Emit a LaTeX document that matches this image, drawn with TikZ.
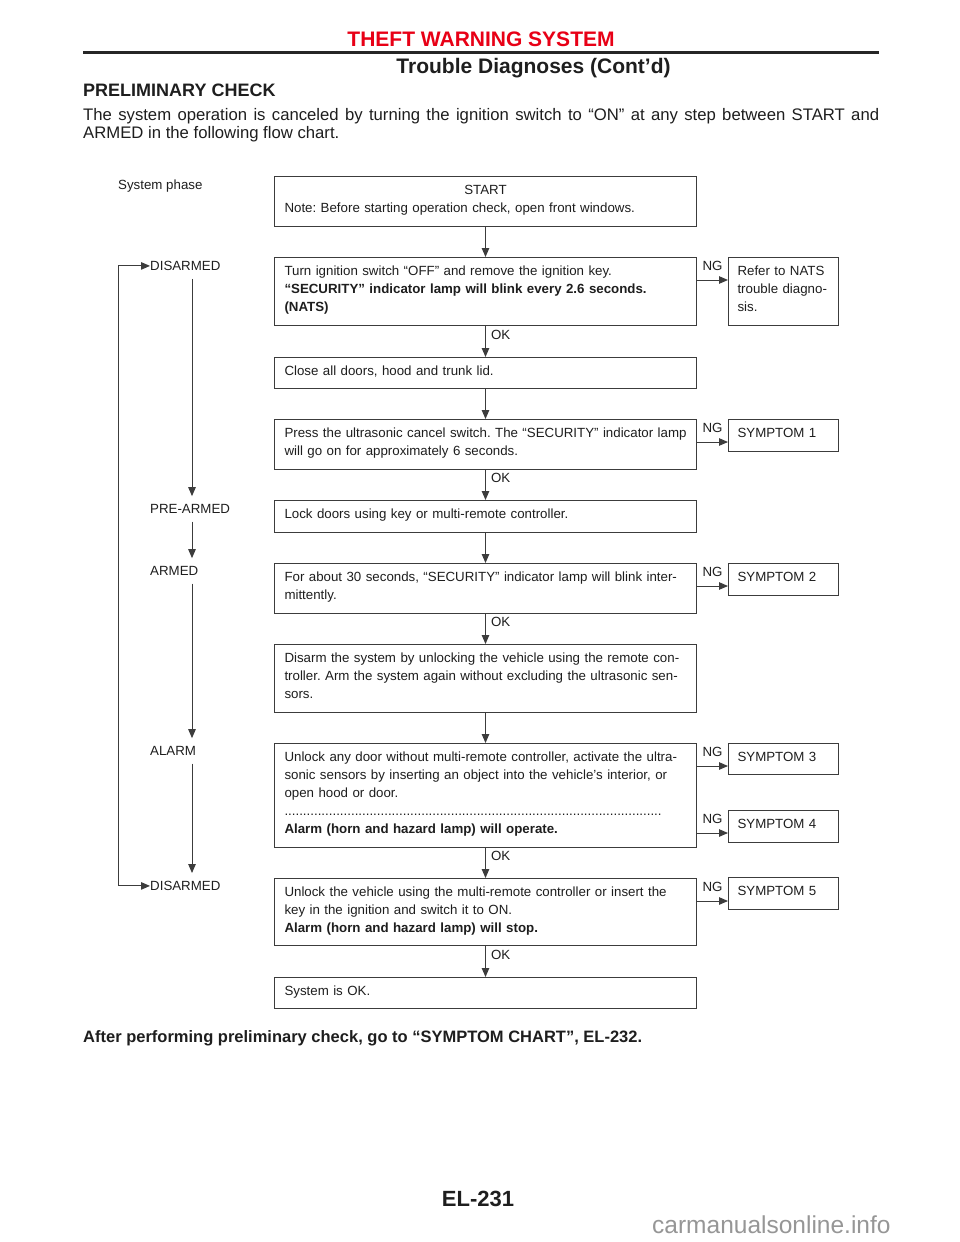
\documentclass[tikz,border=0pt]{standalone}
\usepackage{fontspec}
\setmainfont{Liberation Sans}
\usetikzlibrary{arrows.meta,calc}
\definecolor{titlered}{RGB}{232,0,22}
\definecolor{linec}{RGB}{60,60,60}
\definecolor{txt}{RGB}{30,30,30}
\definecolor{wm}{RGB}{150,150,150}
\newcommand\rs{\rule[-7pt]{0pt}{18pt}}
\newcommand\dotrow{\hbox to 380pt{\leaders\hbox{.}\hfill}}
\frenchspacing
\tikzset{
  boxfont/.style={font=\fontsize{13.3}{18}\selectfont},
  fbox/.style={draw=linec, line width=1pt, anchor=north west, inner xsep=10pt, inner ysep=0pt,
    text width=402pt, align=left, boxfont, text=txt},
  sbox/.style={draw=linec, line width=1pt, anchor=north west, inner xsep=9pt, inner ysep=0pt,
    text width=92pt, align=left, boxfont, text=txt},
  tip/.tip={Triangle[length=9pt,width=7.5pt]},
  arr/.style={draw=linec, line width=1pt, -tip},
  arrboth/.style={draw=linec, line width=1pt, tip-tip},
  phase/.style={anchor=base west, inner sep=0pt, boxfont, text=txt},
  oklab/.style={anchor=west, inner sep=0pt, xshift=5pt, boxfont, text=txt},
  nglab/.style={inner sep=0pt, yshift=14pt, boxfont, text=txt},
}
\begin{document}
\begin{tikzpicture}[x=1pt,y=-1pt]
\useasboundingbox[fill=white] (0,0) rectangle (960,1242);

% header
\node[anchor=base, inner sep=0pt, text=titlered, font=\fontsize{21}{24}\selectfont\bfseries] (title) at (481,46.5) {THEFT WARNING SYSTEM};
\coordinate (rl) at (83,52.5);
\coordinate (rr) at (879,52.5);
\draw[line width=3pt, draw=black!85] (rl) -- (rr);
\node[anchor=base, inner sep=0pt, text=txt, font=\fontsize{21}{24}\selectfont\bfseries] (sub) at (533.5,73.5) {Trouble Diagnoses (Cont’d)};
\node[anchor=base west, inner sep=0pt, text=txt, font=\fontsize{18}{22}\selectfont\bfseries] (sec) at (83,96.5) {PRELIMINARY CHECK};
\node[anchor=base west, inner sep=0pt, text=txt, font=\fontsize{16.7}{18}\selectfont] (p1) at (83,120) {\makebox[796pt][s]{The system operation is canceled by turning the ignition switch to “ON” at any step between START and}};
\node[anchor=base west, inner sep=0pt, text=txt, font=\fontsize{16.7}{18}\selectfont] (p2) at (83,138) {ARMED in the following flow chart.};

% phase column
\node[phase] (sp) at (118,189.5) {System phase};
\node[phase] (d1) at (150,270.5) {DISARMED};
\node[phase] (pa) at (150,513.5) {PRE-ARMED};
\node[phase] (ar) at (150,575.5) {ARMED};
\node[phase] (al) at (150,755.5) {ALARM};
\node[phase] (d2) at (150,890.5) {DISARMED};
\coordinate (colx) at (192,0);
\coordinate (colL) at (118,0);
\draw[arr] ([yshift=-8pt]d1.south -| colx) -- ([yshift=8pt]pa.north -| colx);
\draw[arr] ([yshift=-8pt]pa.south -| colx) -- ([yshift=8pt]ar.north -| colx);
\draw[arr] ([yshift=-8pt]ar.south -| colx) -- ([yshift=8pt]al.north -| colx);
\draw[arr] ([yshift=-8pt]al.south -| colx) -- ([yshift=8pt]d2.north -| colx);
\draw[arrboth] (d1.west) -- (d1.west -| colL) -- (d2.west -| colL) -- (d2.west);

% main boxes
\node[fbox, minimum height=50pt] (b1) at (274,176) {\makebox[402pt]{\rs START}\\\rs Note: Before starting operation check, open front windows.};
\node[fbox, minimum height=68pt] (b2) at (274,257) {\rs Turn ignition switch “OFF” and remove the ignition key.\\\rs\textbf{“SECURITY” indicator lamp will blink every 2.6 seconds.}\\\rs\textbf{(NATS)}};
\node[fbox, minimum height=31pt] (b3) at (274,357) {\rs Close all doors, hood and trunk lid.};
\node[fbox, minimum height=50pt] (b4) at (274,419) {\rs\mbox{Press the ultrasonic cancel switch. The “SECURITY” indicator lamp}\\\rs will go on for approximately 6 seconds.};
\node[fbox, minimum height=32pt] (b5) at (274,500) {\rs Lock doors using key or multi-remote controller.};
\node[fbox, minimum height=50pt] (b6) at (274,563) {\rs\mbox{For about 30 seconds, “SECURITY” indicator lamp will blink inter-}\\\rs mittently.};
\node[fbox, minimum height=68pt] (b7) at (274,644) {\rs\mbox{Disarm the system by unlocking the vehicle using the remote con-}\\\rs\mbox{troller. Arm the system again without excluding the ultrasonic sen-}\\\rs sors.};
\node[fbox, minimum height=104pt] (b8) at (274,743) {\rs\mbox{Unlock any door without multi-remote controller, activate the ultra-}\\\rs\mbox{sonic sensors by inserting an object into the vehicle’s interior, or}\\\rs open hood or door.\\\rs\dotrow\\\rs\textbf{Alarm (horn and hazard lamp) will operate.}};
\node[fbox, minimum height=67pt] (b9) at (274,878) {\rs\mbox{Unlock the vehicle using the multi-remote controller or insert the}\\\rs key in the ignition and switch it to ON.\\\rs\textbf{Alarm (horn and hazard lamp) will stop.}};
\node[fbox, minimum height=31pt] (b10) at (274,977) {\rs System is OK.};

% side boxes
\node[sbox, minimum height=68pt] (s0) at (728,257) {\rs Refer to NATS\\\rs trouble diagno-\\\rs sis.};
\node[sbox, minimum height=32pt] (s1) at (728,419) {\rs SYMPTOM 1};
\node[sbox, minimum height=32pt] (s2) at (728,563) {\rs SYMPTOM 2};
\node[sbox, minimum height=31pt] (s3) at (728,743) {\rs SYMPTOM 3};
\node[sbox, minimum height=32pt] (s4) at (728,810) {\rs SYMPTOM 4};
\node[sbox, minimum height=32pt] (s5) at (728,877) {\rs SYMPTOM 5};

% vertical connectors
\draw[arr] (b1.south) -- (b2.north);
\draw[arr] (b2.south) -- node[oklab, pos=0.28] {OK} (b3.north);
\draw[arr] (b3.south) -- (b4.north);
\draw[arr] (b4.south) -- node[oklab, pos=0.28] {OK} (b5.north);
\draw[arr] (b5.south) -- (b6.north);
\draw[arr] (b6.south) -- node[oklab, pos=0.28] {OK} (b7.north);
\draw[arr] (b7.south) -- (b8.north);
\draw[arr] (b8.south) -- node[oklab, pos=0.28] {OK} (b9.north);
\draw[arr] (b9.south) -- node[oklab, pos=0.28] {OK} (b10.north);

% NG connectors
\draw[arr] ([yshift=-23pt]b2.north east) -- node[nglab] {NG} ([yshift=-23pt]b2.north east -| s0.west);
\draw[arr] ([yshift=-23pt]b4.north east) -- node[nglab] {NG} ([yshift=-23pt]b4.north east -| s1.west);
\draw[arr] ([yshift=-23pt]b6.north east) -- node[nglab] {NG} ([yshift=-23pt]b6.north east -| s2.west);
\draw[arr] ([yshift=-23pt]b8.north east) -- node[nglab] {NG} ([yshift=-23pt]b8.north east -| s3.west);
\draw[arr] ([yshift=-90pt]b8.north east) -- node[nglab] {NG} ([yshift=-90pt]b8.north east -| s4.west);
\draw[arr] ([yshift=-23pt]b9.north east) -- node[nglab] {NG} ([yshift=-23pt]b9.north east -| s5.west);

% footer
\node[anchor=base west, inner sep=0pt, text=txt, font=\fontsize{16.5}{18}\selectfont\bfseries] (after) at (83,1042) {After performing preliminary check, go to “SYMPTOM CHART”, EL-232.};
\node[anchor=base, inner sep=0pt, text=txt, font=\fontsize{22}{24}\selectfont\bfseries] (pg) at (478,1206) {EL-231};
\node[anchor=base west, inner sep=0pt, text=wm, font=\fontsize{24.5}{26}\selectfont] (wmk) at (652,1233) {carmanualsonline.info};
\end{tikzpicture}
\end{document}
